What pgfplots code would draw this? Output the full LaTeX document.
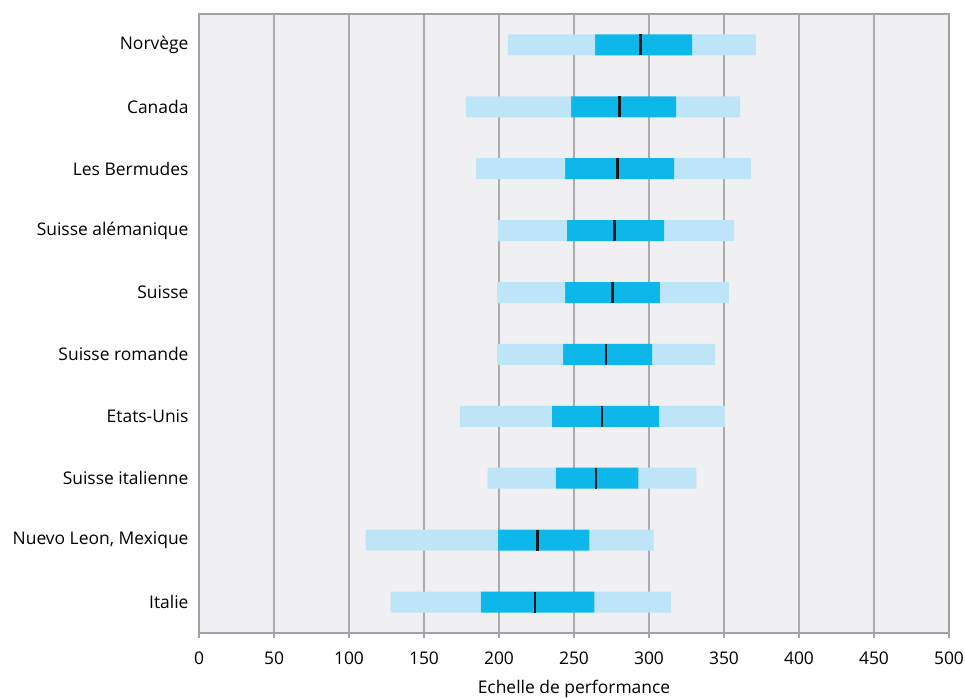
\documentclass[border=0pt]{standalone}
\usepackage{pgfplots}
\pgfplotsset{compat=1.18}
\usepackage{fontspec}
\setmainfont{Open Sans}
\definecolor{lightb}{HTML}{BEE4F8}
\definecolor{darkb}{HTML}{0DB7E9}
\definecolor{bgc}{HTML}{F0F0F2}
\definecolor{gridc}{HTML}{ABABAD}
\definecolor{axc}{HTML}{A2A2A6}
\begin{document}
\begin{tikzpicture}[font=\fontsize{17.5}{20}\selectfont]
\useasboundingbox (-199bp,-65bp) rectangle (766bp,633bp);
\begin{axis}[
  at={(0,0)}, anchor=south west,
  scale only axis, width=750bp, height=619bp,
  xmin=0, xmax=500, ymin=-0.5, ymax=9.5,
  xbar stacked, bar width=21bp,
  axis background/.style={fill=bgc},
  axis line style={axc, line width=1.3bp},
  xmajorgrids, grid style={gridc, line width=1.3bp},
  xtick={0,50,...,500},
  ytick={0,...,9},
  yticklabels={Italie,{Nuevo Leon, Mexique},Suisse italienne,Etats-Unis,Suisse romande,Suisse,Suisse alémanique,Les Bermudes,Canada,Norvège},
  tick align=outside, major tick length=5bp,
  xtick style={axc, line width=1.3bp},
  ytick style={draw=none},
  xtick pos=bottom,
  /pgf/number format/assume math mode=true,
  xlabel={Echelle de performance},
  yticklabel style={xshift=-2bp},
  xticklabel style={yshift=-10bp},
  xlabel style={yshift=-9bp},
]
% offset (low whisker)
\addplot[draw=none, fill=none] coordinates {(127.7,0) (111.1,1) (192.4,2) (174,3) (198.7,4) (198.7,5) (199.3,6) (184.7,7) (178,8) (206,9)};
% low to Q1
\addplot[draw=none, fill=lightb] coordinates {(60.1,0) (88.1,1) (45.4,2) (61.3,3) (44,4) (45.3,5) (46,6) (59.3,7) (70,8) (58,9)};
% Q1 to Q3
\addplot[draw=none, fill=darkb] coordinates {(75.8,0) (61.1,1) (55.1,2) (71.4,3) (59.3,4) (63.3,5) (64.7,6) (72.7,7) (70,8) (64.7,9)};
% Q3 to high
\addplot[draw=none, fill=lightb] coordinates {(51.1,0) (42.7,1) (38.6,2) (44,3) (42,4) (46,5) (46.7,6) (51.3,7) (42.7,8) (42.6,9)};
\end{axis}
\begin{axis}[
  at={(0,0)}, anchor=south west,
  scale only axis, width=750bp, height=619bp,
  xmin=0, xmax=500, ymin=-0.5, ymax=9.5,
  hide axis, clip=false,
]
\addplot[only marks, mark=|, mark size=10.5bp, mark options={line width=2.6bp, draw=black!90}]
  coordinates {(223.9,0) (225.5,1) (264.7,2) (268.7,3) (271.3,4) (275.6,5) (276.9,6) (278.9,7) (280.2,8) (294.5,9)};
\end{axis}
\end{tikzpicture}
\end{document}
